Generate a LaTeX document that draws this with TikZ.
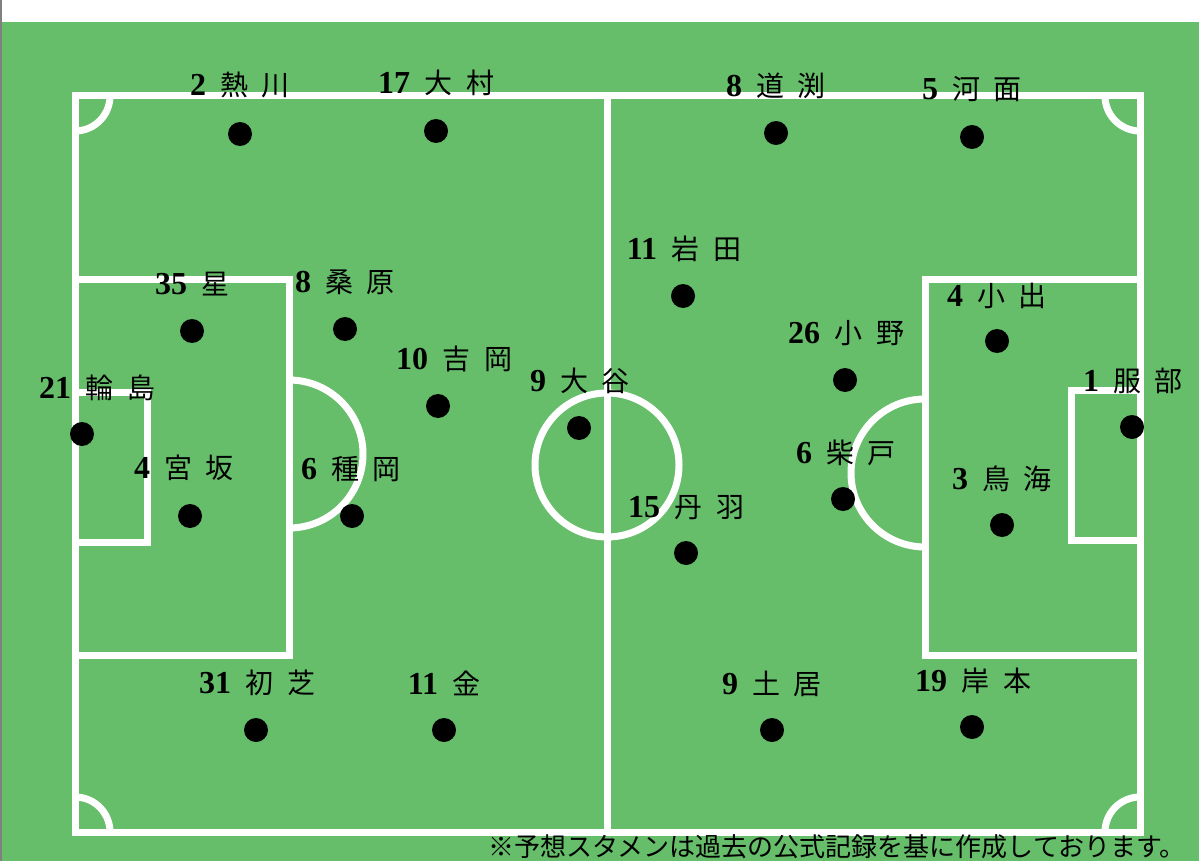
\documentclass[tikz,border=0pt]{standalone}
\usepackage{fontspec}
\newfontfamily\cjk{Noto Sans CJK JP}
\newfontfamily\numfont{Liberation Serif}
\definecolor{pitchgreen}{RGB}{102,189,106}
\newcommand\namefont{\fontsize{28}{30}\selectfont\spaceskip=14pt\relax}
\newcommand\plabel[2]{{\numfont\bfseries\fontsize{32}{34}\selectfont #1} {\cjk #2}}
\tikzset{
  pitchline/.style={white, line width=7pt},
  player/.style={circle, fill=black, minimum size=24pt, inner sep=0pt},
  playername/.style={anchor=base, inner sep=0pt, font=\namefont},
}
\begin{document}
\begin{tikzpicture}[x=1pt, y=-1pt]
    \useasboundingbox (0,0) rectangle (1199,861);
    % ground
    \fill[white] (0,0) rectangle (1199,861);
    \fill[pitchgreen] (0,22) rectangle (1199,861);
    \draw[gray, line width=1.5pt] (0.75,0) -- (0.75,861);
    % pitch markings
    \draw[pitchline] (75,96) rectangle (1140,832);
    \draw[pitchline] (607,96) -- (607,832);
    \draw[pitchline] (607,465) circle[radius=72];
    \draw[pitchline] (75,279) rectangle (289,655);
    \draw[pitchline] (75,392) rectangle (147,542);
    \draw[pitchline] (289,380) arc[start angle=-90, end angle=90, radius=74];
    \draw[pitchline] (925,279) rectangle (1140,655);
    \draw[pitchline] (1071,390) rectangle (1140,540);
    \draw[pitchline] (925,399) arc[start angle=-90, end angle=-270, radius=74];
    \draw[pitchline] (110,96) arc[start angle=0, end angle=90, radius=35];
    \draw[pitchline] (1140,131) arc[start angle=90, end angle=180, radius=35];
    \draw[pitchline] (75,797) arc[start angle=-90, end angle=0, radius=35];
    \draw[pitchline] (1105,832) arc[start angle=180, end angle=270, radius=35];
    % players
    \node[player] (atsukawa) at (240,134) {};
    \node[playername] (atsukawa name) at (240,96) {\plabel{2}{熱 川}};
    \node[player] (omura) at (436,131) {};
    \node[playername] (omura name) at (436,94) {\plabel{17}{大 村}};
    \node[player] (michibuchi) at (776,133) {};
    \node[playername] (michibuchi name) at (776,97) {\plabel{8}{道 渕}};
    \node[player] (komo) at (972,137) {};
    \node[playername] (komo name) at (972,100) {\plabel{5}{河 面}};
    \node[player] (iwata) at (683,296) {};
    \node[playername] (iwata name) at (684,259) {\plabel{11}{岩 田}};
    \node[player] (hoshi) at (192,331) {};
    \node[playername] (hoshi name) at (192,294) {\plabel{35}{星}};
    \node[player] (kuwahara) at (345,329) {};
    \node[playername] (kuwahara name) at (345,292) {\plabel{8}{桑 原}};
    \node[player] (ode) at (997,341) {};
    \node[playername] (ode name) at (997,306) {\plabel{4}{小 出}};
    \node[player] (ono) at (845,380) {};
    \node[playername] (ono name) at (846,343) {\plabel{26}{小 野}};
    \node[player] (yoshioka) at (438,406) {};
    \node[playername] (yoshioka name) at (454,369) {\plabel{10}{吉 岡}};
    \node[player] (wajima) at (82,434) {};
    \node[playername] (wajima name) at (97,398) {\plabel{21}{輪 島}};
    \node[player] (otani) at (579,428) {};
    \node[playername] (otani name) at (580,391) {\plabel{9}{大 谷}};
    \node[player] (hattori) at (1132,427) {};
    \node[playername] (hattori name) at (1133,391) {\plabel{1}{服 部}};
    \node[player] (miyasaka) at (190,516) {};
    \node[playername] (miyasaka name) at (184,478) {\plabel{4}{宮 坂}};
    \node[player] (taneoka) at (352,516) {};
    \node[playername] (taneoka name) at (351,479) {\plabel{6}{種 岡}};
    \node[player] (shibato) at (843,499) {};
    \node[playername] (shibato name) at (846,463) {\plabel{6}{柴 戸}};
    \node[player] (chokai) at (1002,525) {};
    \node[playername] (chokai name) at (1002,489) {\plabel{3}{鳥 海}};
    \node[player] (niwa) at (686,553) {};
    \node[playername] (niwa name) at (686,517) {\plabel{15}{丹 羽}};
    \node[player] (hatsushiba) at (256,730) {};
    \node[playername] (hatsushiba name) at (257,693) {\plabel{31}{初 芝}};
    \node[player] (kim) at (444,730) {};
    \node[playername] (kim name) at (444,694) {\plabel{11}{金}};
    \node[player] (doi) at (772,730) {};
    \node[playername] (doi name) at (772,694) {\plabel{9}{土 居}};
    \node[player] (kishimoto) at (972,727) {};
    \node[playername] (kishimoto name) at (973,691) {\plabel{19}{岸 本}};
    % note
    \node[anchor=base east, inner sep=0pt, font=\cjk\fontsize{26}{28}\selectfont] (note) at (1186,856) {※予想スタメンは過去の公式記録を基に作成しております。};
\end{tikzpicture}
\end{document}
